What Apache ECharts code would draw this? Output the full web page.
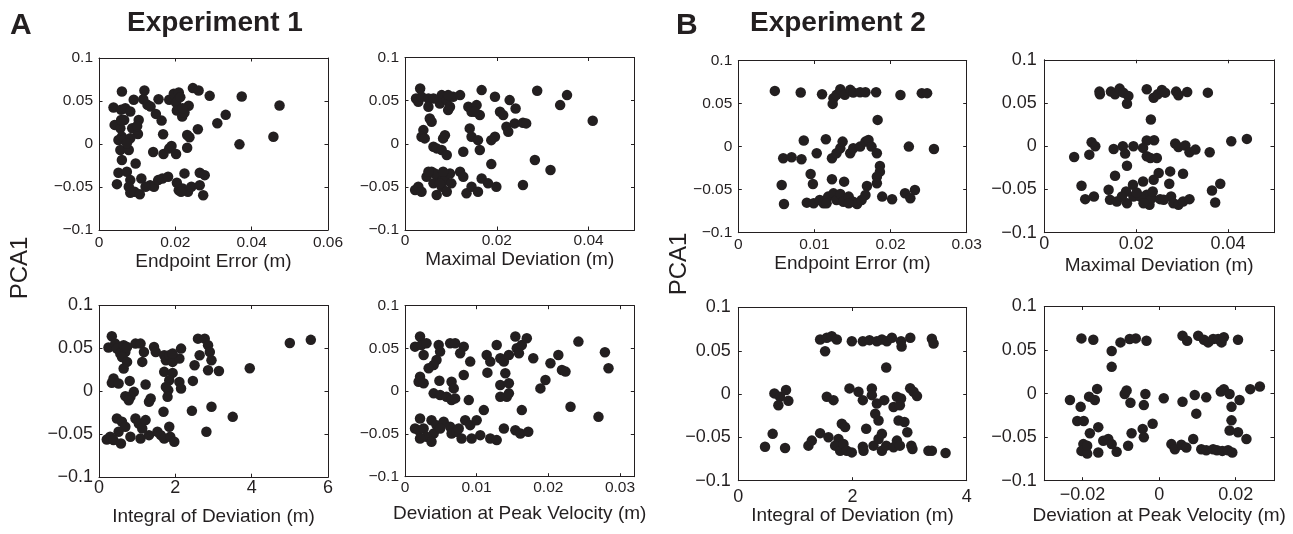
<!DOCTYPE html>
<html>
<head>
<meta charset="utf-8">
<script src="https://cdn.jsdelivr.net/npm/echarts@6/dist/echarts.min.js"></script>
<style>
html,body{margin:0;padding:0;background:#fff;}
#chart{width:1293px;height:534px;}
</style>
</head>
<body>
<div id="chart"></div>
<script>
// ---------------- DATA ----------------
const yTickValues = [-0.1, -0.05, 0, 0.05, 0.1];
const yTickLabels = ['\u22120.1', '\u22120.05', '0', '0.05', '0.1'];

const panelTitles = ['Experiment 1', 'Experiment 2'];
const panelLetters = ['A', 'B'];
const yAxisTitle = 'PCA1';

const xTitles = [
  'Endpoint Error (m)', 'Maximal Deviation (m)', 'Integral of Deviation (m)', 'Deviation at Peak Velocity (m)',
  'Endpoint Error (m)', 'Maximal Deviation (m)', 'Integral of Deviation (m)', 'Deviation at Peak Velocity (m)'
];

const xRanges = [[0, 0.06], [0, 0.05], [0, 6], [0, 0.032], [0, 0.03], [0, 0.05], [0, 4], [-0.03, 0.03]];
const xTickValues = [
  [0, 0.02, 0.04, 0.06], [0, 0.02, 0.04], [0, 2, 4, 6], [0, 0.01, 0.02, 0.03],
  [0, 0.01, 0.02, 0.03], [0, 0.02, 0.04], [0, 2, 4], [-0.02, 0, 0.02]
];
const xTickLabels = [
  ['0', '0.02', '0.04', '0.06'], ['0', '0.02', '0.04'], ['0', '2', '4', '6'], ['0', '0.01', '0.02', '0.03'],
  ['0', '0.01', '0.02', '0.03'], ['0', '0.02', '0.04'], ['0', '2', '4'], ['\u22120.02', '0', '0.02']
];

// Experiment 1
const exp1EndpointError = [
  [0.0060,0.0611],[0.0038,0.0424],[0.0041,0.0222],[0.0058,0.0397],[0.0069,0.0416],[0.0082,0.0377],[0.0066,0.0280],
  [0.0056,0.0183],[0.0060,0.0086],[0.0051,0.0047],[0.0066,0.0047],[0.0056,-0.0070],[0.0078,-0.0070],[0.0060,-0.0187],
  [0.0087,0.0183],[0.0102,0.0117],[0.0104,0.0280],[0.0082,0.0066],[0.0091,0.0514],[0.0119,0.0623],[0.0116,0.0521],
  [0.0127,0.0455],[0.0135,0.0436],[0.0149,0.0350],[0.0164,0.0272],[0.0156,0.0521],[0.0168,0.0113],[0.0142,-0.0093],
  [0.0169,-0.0117],[0.0184,-0.0051],[0.0190,-0.0023],[0.0202,-0.0117],[0.0184,0.0514],[0.0196,0.0584],[0.0209,0.0599],
  [0.0202,0.0482],[0.0204,0.0389],[0.0218,0.0319],[0.0213,0.0545],[0.0235,0.0444],[0.0224,0.0366],[0.0231,0.0105],
  [0.0237,0.0078],[0.0231,-0.0043],[0.0259,0.0171],[0.0246,0.0650],[0.0261,0.0623],[0.0290,0.0560],[0.0310,0.0241],
  [0.0332,0.0339],[0.0374,0.0553],[0.0368,-0.0004],[0.0473,0.0447],[0.0457,0.0085],[0.0051,-0.0335],[0.0047,-0.0467],
  [0.0073,-0.0323],[0.0096,-0.0226],[0.0082,-0.0420],[0.0078,-0.0498],[0.0082,-0.0568],[0.0093,-0.0556],[0.0107,-0.0584],
  [0.0111,-0.0401],[0.0134,-0.0479],[0.0144,-0.0498],[0.0155,-0.0420],[0.0166,-0.0401],[0.0181,-0.0381],[0.0204,-0.0451],
  [0.0209,-0.0537],[0.0219,-0.0518],[0.0224,-0.0342],[0.0233,-0.0556],[0.0242,-0.0498],[0.0215,-0.0556],[0.0264,-0.0479],
  [0.0264,-0.0335],[0.0277,-0.0362],[0.0273,-0.0595],[0.0122,-0.0498],[0.0058,0.0280],[0.0073,0.0008],[0.0100,0.0210],
  [0.0219,0.0416]
];
const exp1MaximalDeviation = [
  [0.0033,0.0641],[0.0024,0.0525],[0.0029,0.0487],[0.0036,0.0544],[0.0051,0.0525],[0.0051,0.0429],[0.0054,0.0293],
  [0.0058,0.0255],[0.0040,0.0158],[0.0036,0.0081],[0.0062,-0.0035],[0.0069,-0.0054],[0.0080,-0.0073],[0.0091,-0.0131],
  [0.0087,0.0100],[0.0083,0.0062],[0.0080,0.0564],[0.0076,0.0467],[0.0091,0.0506],[0.0098,0.0429],[0.0094,0.0390],
  [0.0105,0.0544],[0.0120,0.0564],[0.0127,-0.0093],[0.0138,0.0429],[0.0145,0.0371],[0.0156,0.0448],[0.0163,0.0332],
  [0.0167,0.0622],[0.0141,0.0178],[0.0145,0.0081],[0.0159,0.0042],[0.0163,-0.0073],[0.0196,0.0544],[0.0188,0.0042],
  [0.0196,0.0081],[0.0207,0.0371],[0.0214,0.0332],[0.0221,0.0197],[0.0225,0.0139],[0.0228,0.0506],[0.0241,0.0409],
  [0.0239,0.0236],[0.0257,0.0243],[0.0264,0.0236],[0.0288,0.0614],[0.0353,0.0564],[0.0338,0.0448],[0.0409,0.0266],
  [0.0188,-0.0236],[0.0283,-0.0189],[0.0317,-0.0305],[0.0257,-0.0479],[0.0022,-0.0537],[0.0029,-0.0498],[0.0036,-0.0556],
  [0.0047,-0.0382],[0.0058,-0.0324],[0.0062,-0.0459],[0.0069,-0.0595],[0.0072,-0.0382],[0.0080,-0.0498],[0.0087,-0.0421],
  [0.0091,-0.0556],[0.0098,-0.0344],[0.0101,-0.0459],[0.0120,-0.0324],[0.0127,-0.0382],[0.0134,-0.0575],[0.0145,-0.0498],
  [0.0159,-0.0556],[0.0167,-0.0402],[0.0181,-0.0459],[0.0199,-0.0498],[0.0076,-0.0459],[0.0065,-0.0344],[0.0043,0.0062],
  [0.0062,0.0525],[0.0094,0.0564],[0.0152,0.0371],[0.0051,-0.0324],[0.0083,-0.0324]
];
const exp1IntegralDeviation = [
  [0.336,0.0641],[0.248,0.0510],[0.425,0.0556],[0.469,0.0498],[0.558,0.0440],[0.646,0.0537],[0.690,0.0459],[0.602,0.0401],
  [0.735,0.0343],[0.646,0.0266],[0.956,0.0556],[1.088,0.0556],[1.177,0.0459],[1.133,0.0343],[1.442,0.0517],[1.487,0.0459],
  [1.708,0.0420],[1.752,0.0362],[1.841,0.0420],[1.929,0.0343],[2.106,0.0382],[2.150,0.0498],[2.593,0.0614],[2.770,0.0614],
  [2.858,0.0537],[2.903,0.0459],[2.637,0.0420],[2.504,0.0304],[2.947,0.0362],[2.858,0.0246],[3.142,0.0238],[3.950,0.0270],
  [5.000,0.0564],[5.550,0.0600],[0.381,0.0149],[0.336,0.0099],[0.513,0.0091],[0.805,0.0122],[1.221,0.0079],[0.912,-0.0006],
  [0.823,-0.0064],[0.690,-0.0056],[0.779,-0.0103],[1.354,-0.0083],[1.310,-0.0122],[1.708,0.0227],[1.929,0.0215],[1.841,0.0130],
  [2.106,0.0110],[2.150,0.0033],[1.814,0.0014],[1.796,-0.0064],[1.752,0.0052],[2.460,0.0122],[1.690,-0.0238],[2.434,-0.0227],
  [2.947,-0.0180],[3.504,-0.0297],[2.814,-0.0471],[0.469,-0.0316],[0.602,-0.0355],[0.690,-0.0413],[0.513,-0.0471],
  [0.292,-0.0529],[0.204,-0.0560],[0.381,-0.0568],[0.575,-0.0607],[0.956,-0.0316],[1.044,-0.0374],[1.221,-0.0335],
  [1.133,-0.0432],[1.088,-0.0549],[1.310,-0.0510],[1.531,-0.0471],[1.619,-0.0510],[1.708,-0.0549],[1.841,-0.0413],
  [1.867,-0.0529],[1.973,-0.0587],[0.823,-0.0529],[0.735,0.0517],[1.929,0.0440]
];
const exp1PeakVelocityDeviation = [
  [0.0021,0.0639],[0.0014,0.0521],[0.0023,0.0541],[0.0026,0.0424],[0.0030,0.0561],[0.0047,0.0541],[0.0049,0.0463],
  [0.0044,0.0365],[0.0040,0.0307],[0.0033,0.0268],[0.0021,0.0170],[0.0019,0.0111],[0.0026,0.0092],[0.0048,0.0123],
  [0.0040,-0.0025],[0.0049,-0.0045],[0.0058,-0.0064],[0.0065,-0.0104],[0.0070,-0.0084],[0.0065,0.0111],[0.0068,0.0033],
  [0.0082,0.0189],[0.0089,-0.0104],[0.0063,0.0561],[0.0070,0.0561],[0.0082,0.0521],[0.0077,0.0443],[0.0091,0.0346],
  [0.0115,0.0217],[0.0114,0.0424],[0.0128,0.0541],[0.0119,0.0346],[0.0133,0.0385],[0.0138,0.0346],[0.0145,0.0424],
  [0.0154,0.0639],[0.0156,0.0502],[0.0163,0.0541],[0.0170,0.0619],[0.0159,0.0443],[0.0140,0.0209],[0.0133,0.0072],
  [0.0145,0.0092],[0.0133,-0.0064],[0.0142,-0.0064],[0.0145,-0.0025],[0.0179,0.0385],[0.0203,0.0326],[0.0214,0.0424],
  [0.0219,0.0248],[0.0224,0.0229],[0.0196,0.0131],[0.0189,0.0033],[0.0242,0.0580],[0.0279,0.0455],[0.0284,0.0268],
  [0.0231,-0.0182],[0.0270,-0.0300],[0.0163,-0.0221],[0.0110,-0.0221],[0.0021,-0.0319],[0.0014,-0.0436],[0.0019,-0.0456],
  [0.0026,-0.0436],[0.0037,-0.0339],[0.0040,-0.0494],[0.0044,-0.0397],[0.0054,-0.0358],[0.0063,-0.0416],[0.0065,-0.0494],
  [0.0072,-0.0475],[0.0079,-0.0553],[0.0084,-0.0339],[0.0091,-0.0397],[0.0093,-0.0553],[0.0100,-0.0339],[0.0105,-0.0514],
  [0.0119,-0.0553],[0.0128,-0.0572],[0.0138,-0.0436],[0.0154,-0.0456],[0.0161,-0.0494],[0.0172,-0.0475],[0.0049,-0.0436],
  [0.0030,-0.0533],[0.0037,-0.0592],[0.0021,-0.0553],[0.0075,-0.0436]
];

// Experiment 2
const exp2EndpointError = [
  [0.0048,0.0647],[0.0082,0.0628],[0.0110,0.0609],[0.0125,0.0562],[0.0124,0.0496],[0.0129,0.0601],[0.0134,0.0667],
  [0.0140,0.0601],[0.0147,0.0659],[0.0151,0.0628],[0.0160,0.0632],[0.0167,0.0632],[0.0181,0.0632],[0.0183,0.0310],
  [0.0059,-0.0136],[0.0070,-0.0124],[0.0083,-0.0147],[0.0086,0.0070],[0.0103,-0.0078],[0.0115,0.0085],[0.0123,-0.0136],
  [0.0129,-0.0078],[0.0134,-0.0019],[0.0137,0.0058],[0.0147,-0.0078],[0.0151,-0.0019],[0.0160,0.0000],[0.0167,0.0058],
  [0.0171,0.0078],[0.0175,0.0000],[0.0182,-0.0078],[0.0186,-0.0225],[0.0186,-0.0291],[0.0182,-0.0349],[0.0182,-0.0426],
  [0.0169,-0.0457],[0.0057,-0.0446],[0.0060,-0.0667],[0.0095,-0.0318],[0.0098,-0.0434],[0.0123,-0.0380],[0.0139,-0.0407],
  [0.0090,-0.0651],[0.0099,-0.0659],[0.0107,-0.0620],[0.0112,-0.0659],[0.0118,-0.0581],[0.0125,-0.0543],[0.0129,-0.0620],
  [0.0134,-0.0550],[0.0138,-0.0640],[0.0145,-0.0581],[0.0151,-0.0640],[0.0156,-0.0667],[0.0162,-0.0620],[0.0167,-0.0562],
  [0.0189,-0.0581],[0.0202,-0.0612],[0.0116,-0.0659],[0.0145,-0.0659],[0.0213,0.0600],[0.0241,0.0621],[0.0248,0.0621],
  [0.0224,0.0000],[0.0257,-0.0027],[0.0219,-0.0542],[0.0226,-0.0600],[0.0232,-0.0504]
];
const exp2MaximalDeviation = [
  [0.0065,-0.0124],[0.0081,-0.0457],[0.0089,-0.0612],[0.0108,-0.0581],[0.0098,-0.0097],[0.0103,0.0047],[0.0111,0.0000],
  [0.0120,0.0632],[0.0121,0.0601],[0.0145,0.0632],[0.0154,0.0601],[0.0164,0.0667],[0.0172,0.0620],[0.0183,0.0581],
  [0.0180,0.0492],[0.0151,-0.0031],[0.0154,-0.0341],[0.0171,0.0000],[0.0176,-0.0085],[0.0180,-0.0225],[0.0194,0.0000],
  [0.0178,-0.0523],[0.0193,-0.0446],[0.0140,-0.0504],[0.0143,-0.0620],[0.0158,-0.0640],[0.0180,-0.0659],[0.0194,-0.0581],
  [0.0215,-0.0407],[0.0223,-0.0562],[0.0229,-0.0678],[0.0234,-0.0601],[0.0236,-0.0523],[0.0238,-0.0388],[0.0249,-0.0310],
  [0.0252,-0.0612],[0.0274,-0.0291],[0.0272,-0.0434],[0.0276,-0.0581],[0.0281,-0.0659],[0.0292,-0.0678],[0.0302,-0.0318],
  [0.0302,-0.0640],[0.0316,-0.0612],[0.0223,0.0659],[0.0238,0.0562],[0.0247,0.0601],[0.0256,0.0651],[0.0263,0.0620],
  [0.0287,0.0632],[0.0292,0.0589],[0.0311,0.0628],[0.0356,0.0620],[0.0232,0.0310],[0.0223,0.0066],[0.0239,0.0070],
  [0.0215,-0.0019],[0.0223,-0.0116],[0.0231,-0.0136],[0.0245,-0.0136],[0.0285,0.0031],[0.0292,-0.0008],[0.0307,0.0008],
  [0.0316,-0.0070],[0.0329,-0.0039],[0.0360,-0.0070],[0.0407,0.0058],[0.0441,0.0085],[0.0365,-0.0512],[0.0383,-0.0434],
  [0.0372,-0.0651],[0.0209,-0.0581],[0.0216,-0.0659],[0.0260,-0.0620],[0.0169,-0.0581],[0.0201,-0.0535]
];
const exp2IntegralDeviation = [
  [0.468,-0.0607],[0.602,-0.0459],[0.632,0.0008],[0.731,-0.0031],[0.702,-0.0128],[0.836,0.0047],[0.877,-0.0078],
  [0.819,-0.0623],[1.228,-0.0595],[1.287,-0.0537],[1.433,-0.0451],[1.433,0.0630],[1.550,0.0650],[1.637,0.0669],
  [1.725,0.0630],[1.520,0.0494],[1.550,-0.0031],[1.667,-0.0070],[1.579,-0.0498],[1.813,-0.0342],[1.871,-0.0381],
  [1.754,-0.0518],[1.696,-0.0595],[1.784,-0.0654],[1.842,-0.0576],[1.901,-0.0654],[1.988,-0.0673],[1.988,0.0611],
  [2.181,0.0611],[2.298,0.0623],[2.427,0.0611],[2.515,0.0630],[2.602,0.0611],[2.690,0.0650],[2.591,0.0307],[1.947,0.0066],
  [2.105,0.0027],[2.181,-0.0070],[2.339,0.0066],[2.339,-0.0012],[2.427,-0.0109],[2.398,-0.0226],[2.456,-0.0304],
  [2.556,-0.0070],[2.240,-0.0401],[2.181,-0.0607],[2.193,-0.0654],[2.368,-0.0595],[2.456,-0.0518],[2.515,-0.0459],
  [2.515,-0.0654],[2.591,-0.0595],[2.719,-0.0615],[2.778,-0.0537],[2.778,-0.0031],[2.719,-0.0148],[2.807,-0.0304],
  [3.012,0.0650],[2.850,0.0610],[2.860,0.0550],[3.390,0.0639],[3.420,0.0584],[3.010,0.0067],[3.070,0.0027],[3.130,-0.0023],
  [2.850,-0.0050],[2.830,-0.0128],[2.910,-0.0323],[2.960,-0.0440],[2.830,-0.0595],[3.030,-0.0595],[3.050,-0.0634],
  [3.330,-0.0654],[3.390,-0.0654],[3.630,-0.0680]
];
const exp2PeakVelocityDeviation = [
  [-0.0203,0.0634],[-0.0172,0.0619],[-0.0233,-0.0074],[-0.0205,-0.0152],[-0.0214,-0.0315],[-0.0197,-0.0315],
  [-0.0183,-0.0035],[-0.0168,-0.0074],[-0.0162,0.0054],[-0.0181,-0.0455],[-0.0159,-0.0385],[-0.0198,-0.0580],
  [-0.0203,-0.0658],[-0.0188,-0.0689],[-0.0188,-0.0599],[-0.0159,-0.0677],[-0.0146,-0.0541],[-0.0133,-0.0521],
  [-0.0124,-0.0580],[-0.0111,-0.0669],[-0.0081,-0.0599],[-0.0072,-0.0455],[-0.0124,0.0490],[-0.0124,0.0307],
  [-0.0101,0.0588],[-0.0077,0.0626],[-0.0061,0.0634],[-0.0033,0.0607],[-0.0090,-0.0004],[-0.0085,0.0035],
  [-0.0075,-0.0105],[-0.0040,-0.0132],[-0.0036,-0.0004],[-0.0043,-0.0405],[-0.0040,-0.0502],[-0.0017,-0.0346],
  [0.0012,-0.0054],[0.0061,-0.0093],[0.0093,-0.0016],[0.0097,-0.0230],[0.0123,-0.0043],[0.0089,-0.0521],[0.0032,-0.0580],
  [0.0041,-0.0638],[0.0058,-0.0588],[0.0071,-0.0619],[0.0110,-0.0638],[0.0123,-0.0650],[0.0141,-0.0638],[0.0151,-0.0650],
  [0.0165,-0.0658],[0.0180,-0.0650],[0.0191,-0.0677],[0.0061,0.0665],[0.0073,0.0607],[0.0102,0.0665],[0.0117,0.0619],
  [0.0128,0.0588],[0.0141,0.0626],[0.0154,0.0626],[0.0163,0.0588],[0.0169,0.0646],[0.0206,0.0619],[0.0161,0.0023],
  [0.0169,0.0051],[0.0184,-0.0004],[0.0189,-0.0152],[0.0189,-0.0307],[0.0184,-0.0424],[0.0206,-0.0444],[0.0210,-0.0074],
  [0.0228,-0.0521],[0.0238,0.0051],[0.0263,0.0082]
];

const panelData = [
  exp1EndpointError, exp1MaximalDeviation, exp1IntegralDeviation, exp1PeakVelocityDeviation,
  exp2EndpointError, exp2MaximalDeviation, exp2IntegralDeviation, exp2PeakVelocityDeviation
];

// ---------------- LAYOUT / STYLE ----------------
const INK = '#231f20';
const FONT = '"Liberation Sans", Arial, Helvetica, sans-serif';

// left, top, width, height of each plot box
const boxes = [
  [99, 58, 229, 172], [405, 57.5, 229.5, 172.5], [99, 305.5, 229, 171.7], [405, 305.7, 229.3, 171],
  [738.3, 60.5, 228.4, 172.2], [1044.3, 59.8, 229.7, 172.9], [738.3, 307.5, 228.4, 173.2], [1044.3, 306.5, 229.7, 174.2]
];
const tickFont = [15.5, 15.5, 18, 15.5, 15.5, 18, 18, 18];
const xLabelMargin = [5, 3, 2, 3.5, 4.3, 2.5, 7, 5.5];
const yLabelMargin = [6, 6, 6, 6, 6, 7.5, 7.5, 7.5];
const nameGap = [19, 18, 30, 28, 17, 23.5, 24, 25.5];
const titleFont = 19;

function labelFor(values, labels) {
  return function (v) {
    for (let i = 0; i < values.length; i++) {
      if (Math.abs(v - values[i]) < 1e-9) return labels[i];
    }
    return '';
  };
}

const grids = [], xAxes = [], yAxes = [], series = [];
boxes.forEach((b, i) => {
  grids.push({ left: b[0], top: b[1], width: b[2], height: b[3], containLabel: false });
  const axisLine = { show: true, onZero: false, lineStyle: { color: INK, width: 1 } };
  const tick = (vals) => ({ show: true, inside: true, length: 3.5, lineStyle: { color: INK, width: 1 }, customValues: vals });
  // bottom x
  xAxes.push({
    type: 'value', gridIndex: i, position: 'bottom', min: xRanges[i][0], max: xRanges[i][1],
    splitLine: { show: false }, axisLine: axisLine, axisTick: tick(xTickValues[i]),
    axisLabel: { customValues: xTickValues[i], formatter: labelFor(xTickValues[i], xTickLabels[i]),
      color: INK, fontFamily: FONT, fontSize: tickFont[i], margin: xLabelMargin[i] },
    name: xTitles[i], nameLocation: 'middle', nameGap: nameGap[i],
    nameTextStyle: { color: INK, fontFamily: FONT, fontSize: titleFont }
  });
  // top mirror
  xAxes.push({
    type: 'value', gridIndex: i, position: 'top', min: xRanges[i][0], max: xRanges[i][1],
    splitLine: { show: false }, axisLine: axisLine, axisTick: tick(xTickValues[i]), axisLabel: { show: false }
  });
  // left y
  yAxes.push({
    type: 'value', gridIndex: i, position: 'left', min: -0.1, max: 0.1,
    splitLine: { show: false }, axisLine: axisLine, axisTick: tick(yTickValues),
    axisLabel: { customValues: yTickValues, formatter: labelFor(yTickValues, yTickLabels),
      color: INK, fontFamily: FONT, fontSize: tickFont[i], margin: yLabelMargin[i] }
  });
  // right mirror
  yAxes.push({
    type: 'value', gridIndex: i, position: 'right', min: -0.1, max: 0.1,
    splitLine: { show: false }, axisLine: axisLine, axisTick: tick(yTickValues), axisLabel: { show: false }
  });
  series.push({
    type: 'scatter', xAxisIndex: 2 * i, yAxisIndex: 2 * i, data: panelData[i],
    symbol: 'circle', symbolSize: 10.5, itemStyle: { color: INK, opacity: 1 },
    silent: true, animation: false
  });
});

const graphics = [
  { type: 'text', left: 10, top: 11, style: { text: panelLetters[0], font: 'bold 30px ' + FONT, fill: INK } },
  { type: 'text', left: 127, top: 9, style: { text: panelTitles[0], font: 'bold 28px ' + FONT, fill: INK } },
  { type: 'text', left: 676, top: 11, style: { text: panelLetters[1], font: 'bold 30px ' + FONT, fill: INK } },
  { type: 'text', left: 750, top: 9, style: { text: panelTitles[1], font: 'bold 28px ' + FONT, fill: INK } },
  { type: 'text', x: 20, y: 268, rotation: Math.PI / 2,
    style: { text: yAxisTitle, font: '24px ' + FONT, fill: INK, align: 'center', verticalAlign: 'middle' } },
  { type: 'text', x: 679, y: 264, rotation: Math.PI / 2,
    style: { text: yAxisTitle, font: '24px ' + FONT, fill: INK, align: 'center', verticalAlign: 'middle' } }
];

const chart = echarts.init(document.getElementById('chart'), null, { renderer: 'canvas' });
chart.setOption({
  animation: false,
  backgroundColor: '#ffffff',
  grid: grids,
  xAxis: xAxes,
  yAxis: yAxes,
  series: series,
  graphic: graphics
});
</script>
</body>
</html>
